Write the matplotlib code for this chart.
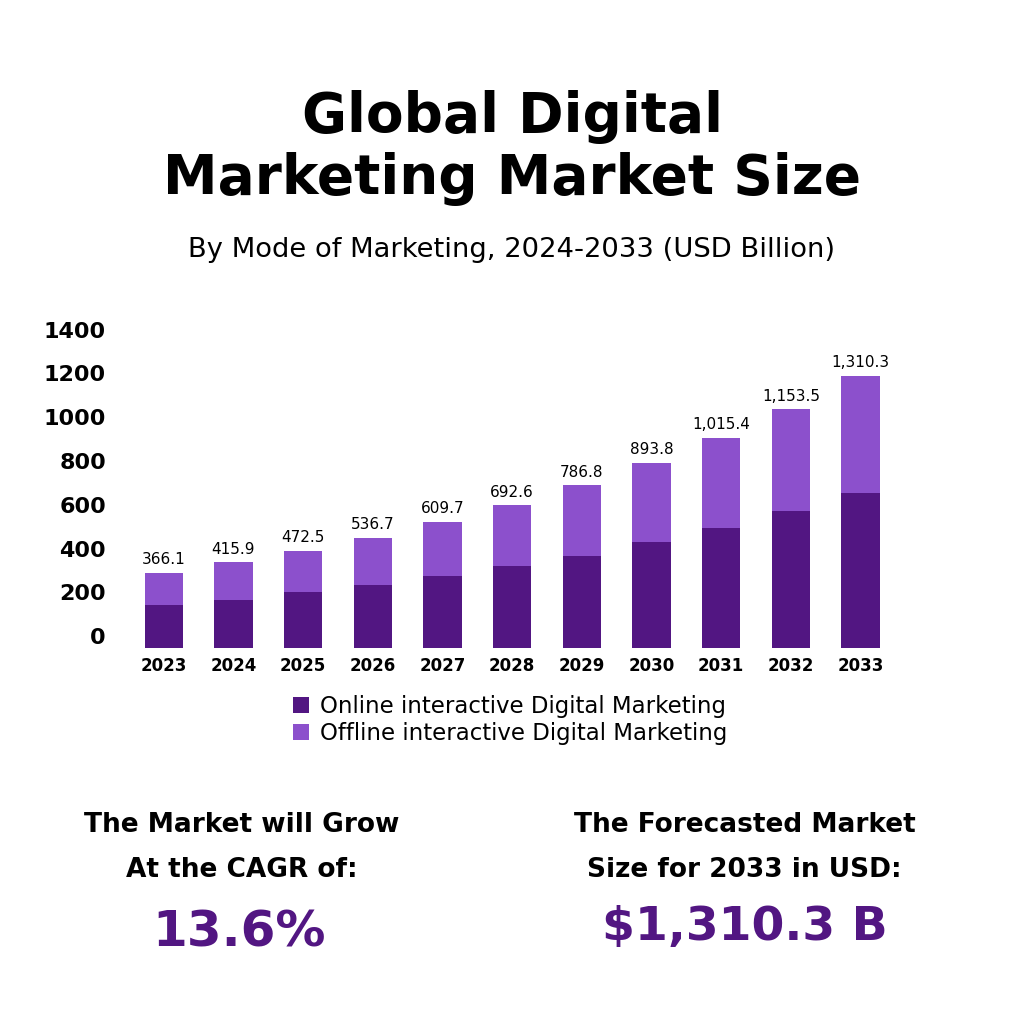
import numpy as np
import matplotlib
matplotlib.use("Agg")
import matplotlib.pyplot as plt

# data
years = ["2023", "2024", "2025", "2026", "2027", "2028", "2029", "2030", "2031", "2032", "2033"]
online = [196, 222, 256, 288, 330, 374, 421, 483, 549, 626, 709]
totals = [344, 393, 446, 504, 577, 653, 744, 846, 962, 1091, 1243]
total_labels = ["366.1", "415.9", "472.5", "536.7", "609.7", "692.6",
                "786.8", "893.8", "1,015.4", "1,153.5", "1,310.3"]
offline = [t - o for t, o in zip(totals, online)]
yticks = [0, 200, 400, 600, 800, 1000, 1200, 1400]

DARK = "#521682"
LIGHT = "#8c50cc"
FONT = "DejaVu Sans"

plt.rcParams["font.family"] = [FONT]

fig = plt.figure(figsize=(10.24, 10.24), dpi=100)
fig.patch.set_facecolor("white")

# titles
fig.text(0.5, 0.886, "Global Digital", ha="center", va="center",
         fontsize=39.5, fontweight="bold", color="black")
fig.text(0.5, 0.825, "Marketing Market Size", ha="center", va="center",
         fontsize=39.5, fontweight="bold", color="black")
fig.text(0.5, 0.756, "By Mode of Marketing, 2024-2033 (USD Billion)",
         ha="center", va="center", fontsize=19.7, color="black")

# chart
ax = fig.add_axes([0.117, 0.367, 0.752, 0.2994])
x = np.arange(len(years))
ax.bar(x, online, width=0.55, color=DARK, label="Online interactive Digital Marketing")
ax.bar(x, offline, width=0.55, bottom=online, color=LIGHT,
       label="Offline interactive Digital Marketing")

for xi, t, lab in zip(x, totals, total_labels):
    ax.annotate(lab, (xi, t), xytext=(0, 4), textcoords="offset points",
                ha="center", va="bottom", fontsize=11, color="black")

ax.set_xlim(-0.63, 10.42)
ax.set_ylim(0, 1400)
ax.set_xticks(x)
ax.set_xticklabels(years, fontsize=12, fontweight="bold")
ax.set_yticks(yticks)
ax.set_yticklabels([str(v) for v in yticks], fontsize=16, fontweight="bold", va="bottom")
ax.tick_params(axis="both", length=0)
ax.tick_params(axis="x", pad=6)
ax.tick_params(axis="y", pad=10)
for s in ax.spines.values():
    s.set_visible(False)

leg = fig.legend(loc="center", bbox_to_anchor=(0.498, 0.297), frameon=False,
                 fontsize=16.5, handlelength=0.7, handleheight=0.7,
                 handletextpad=0.5, labelspacing=0.15)

# bottom callouts
fig.text(0.236, 0.194, "The Market will Grow", ha="center", va="center",
         fontsize=19, fontweight="bold", color="black")
fig.text(0.236, 0.150, "At the CAGR of:", ha="center", va="center",
         fontsize=19, fontweight="bold", color="black")
fig.text(0.233, 0.089, "13.6%", ha="center", va="center",
         fontsize=36, fontweight="bold", color=DARK)

fig.text(0.727, 0.194, "The Forecasted Market", ha="center", va="center",
         fontsize=19, fontweight="bold", color="black")
fig.text(0.727, 0.150, "Size for 2033 in USD:", ha="center", va="center",
         fontsize=19, fontweight="bold", color="black")
fig.text(0.727, 0.094, "$1,310.3 B", ha="center", va="center",
         fontsize=34, fontweight="bold", color=DARK)

fig.savefig("out.png", dpi=100, facecolor="white")
